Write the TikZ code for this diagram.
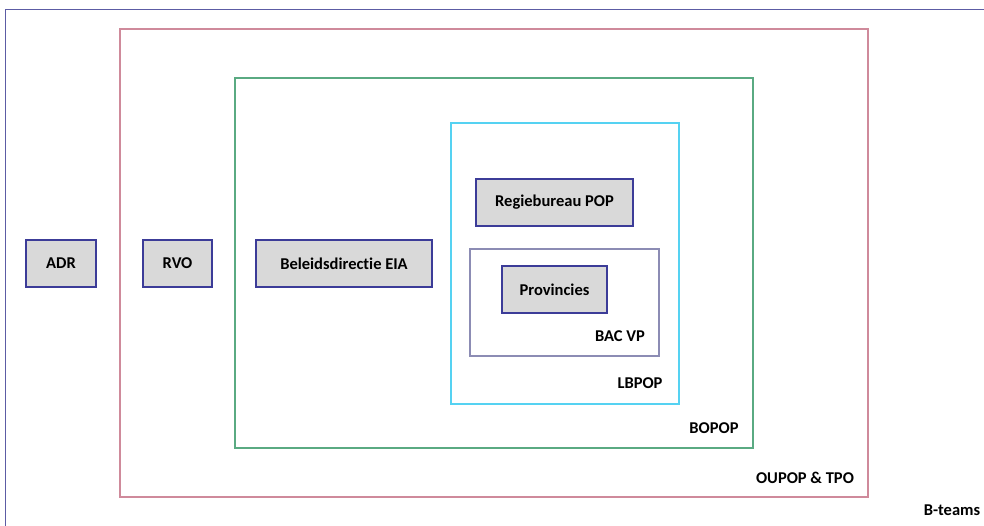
\documentclass[tikz,border=0pt]{standalone}
\usepackage{fontspec}
\setmainfont{Carlito}[Ligatures=NoCommon]
\begin{document}
\begin{tikzpicture}[x=1pt,y=-1pt,
  org/.style={draw=orgborder,fill=orgfill,line width=1.5pt,inner sep=0pt,font=\bfseries\fontsize{16.5}{18}\selectfont},
  lbl/.style={font=\bfseries\fontsize{16.5}{18}\selectfont,inner sep=0pt},
  frame/.style={line width=1.5pt}]
\definecolor{orgborder}{HTML}{3C3C98}
\definecolor{orgfill}{HTML}{D9D9D9}
\definecolor{outerc}{HTML}{5C5CA4}
\definecolor{pinkc}{HTML}{CF8A9B}
\definecolor{greenc}{HTML}{5AAA82}
\definecolor{cyanc}{HTML}{55D2F2}
\definecolor{bacc}{HTML}{8C8CB4}
\useasboundingbox (0,0) rectangle (984,525);
\draw[frame,draw=outerc] (5.5,530) -- (5.5,9.5) -- (990,9.5);
\draw[frame,draw=pinkc,line width=2pt] (120,29) rectangle (868,497);
\draw[frame,draw=greenc] (235,78) rectangle (753,448);
\draw[frame,draw=cyanc] (451,123) rectangle (679,404);
\draw[frame,draw=bacc] (470,249) rectangle (659,356);
\node[org,minimum width=70pt,minimum height=47pt] (adr) at (61,263.5) {ADR};
\node[org,minimum width=69pt,minimum height=47pt] (rvo) at (177.5,263.5) {RVO};
\node[org,minimum width=176pt,minimum height=47pt] (eia) at (344,263.5) {Beleidsdirectie EIA};
\node[org,minimum width=157pt,minimum height=47pt] (pop) at (554.5,202.5) {Regiebureau POP};
\node[org,minimum width=105pt,minimum height=47pt] (prov) at (554.5,289.5) {Provincies};
\node[lbl] (bac) at (620,336) {BAC VP};
\node[lbl] (lb) at (640,383) {LBPOP};
\node[lbl] (bo) at (714,428) {BOPOP};
\node[lbl] (ou) at (805,478) {OUPOP \& TPO};
\node[lbl] (bt) at (952,510) {B-teams};
\end{tikzpicture}
\end{document}
